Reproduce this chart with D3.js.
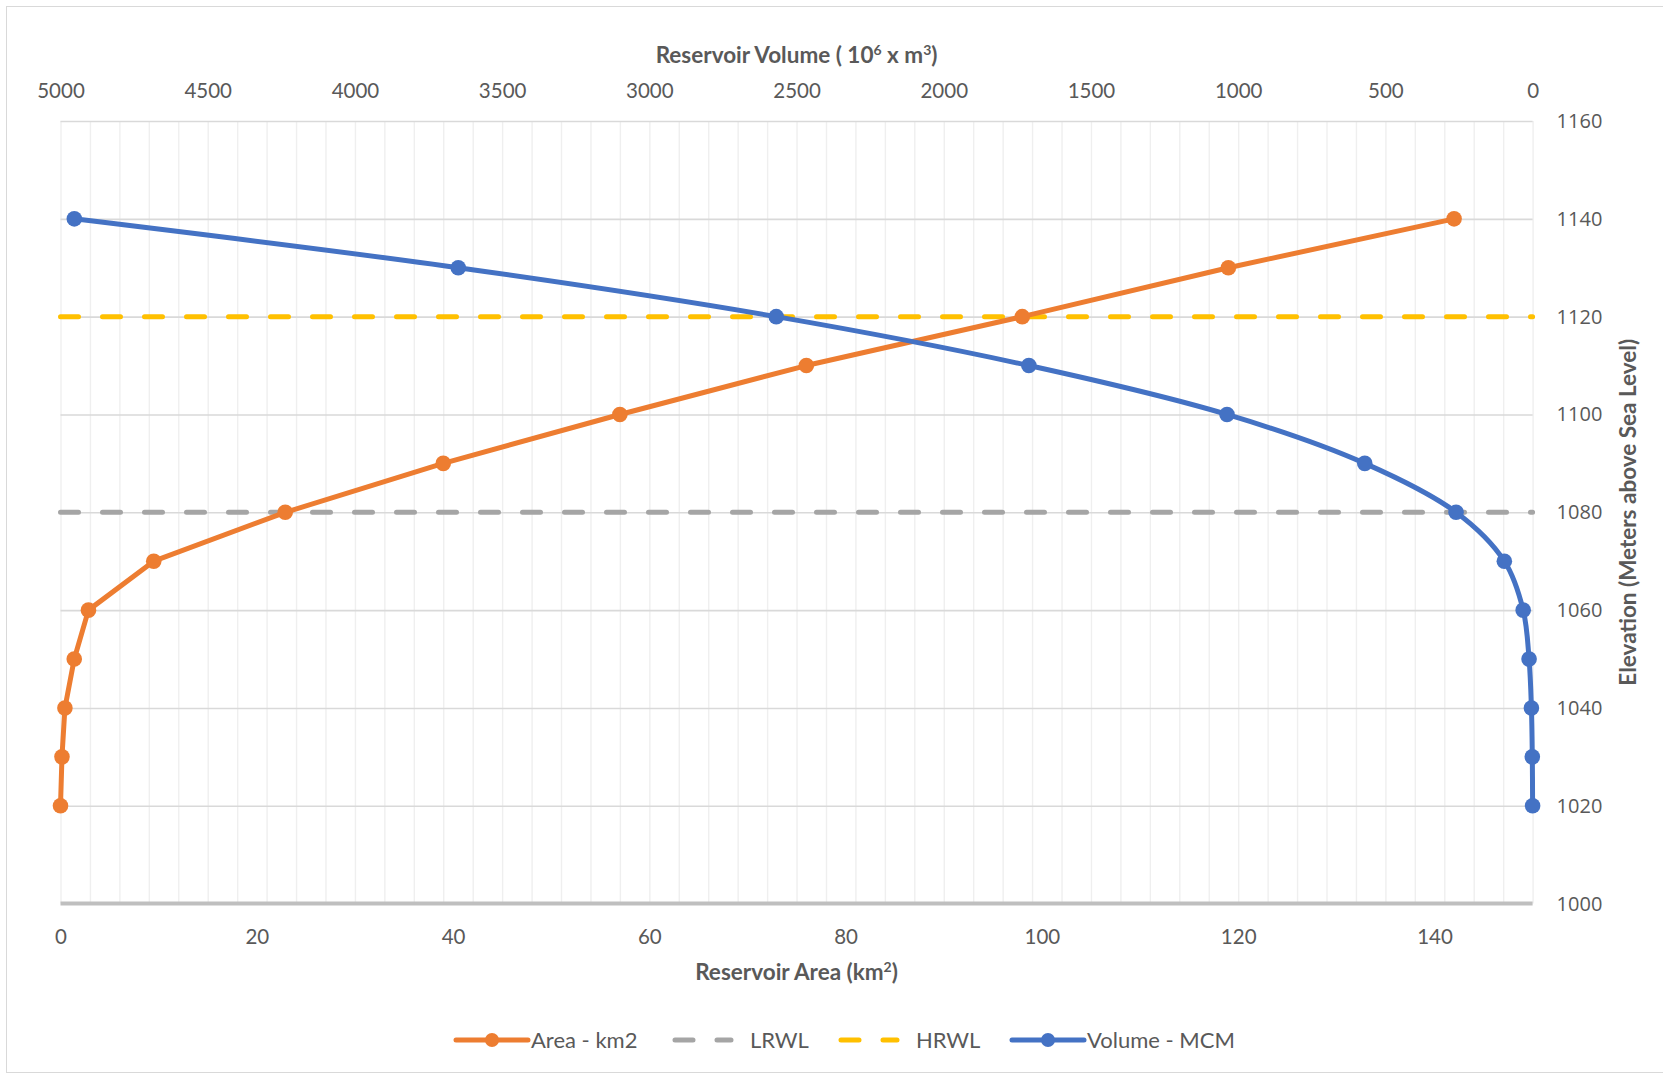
<!DOCTYPE html>
<html>
<head>
<meta charset="utf-8">
<script src="https://cdn.jsdelivr.net/npm/d3@7"></script>
<style>
  html, body { margin: 0; padding: 0; background: #ffffff; }
  svg { display: block; }
</style>
</head>
<body>
<svg id="chart" width="1663" height="1075"></svg>
<script>
// Elevation–area–capacity data for the reservoir
const elevations = [1020, 1030, 1040, 1050, 1060, 1070, 1080, 1090, 1100, 1110, 1120, 1130, 1140];
const areaKm2    = [0, 0.15, 0.45, 1.4, 2.85, 9.5, 22.9, 39.0, 57.0, 76.0, 98.0, 119.0, 142.0];
const volumeMCM  = [0, 1, 4, 12, 32, 96, 260, 570, 1038, 1711, 2569, 3649, 4953];

// Operating levels (m a.s.l.)
const lrwlLevel = 1080;
const hrwlLevel = 1120;

// Axis ticks
const areaTicks      = [0, 20, 40, 60, 80, 100, 120, 140];
const volumeTicks    = [5000, 4500, 4000, 3500, 3000, 2500, 2000, 1500, 1000, 500, 0];
const elevationTicks = [1000, 1020, 1040, 1060, 1080, 1100, 1120, 1140, 1160];

const legendItems = [
  { key: "area",   label: "Area - km2" },
  { key: "lrwl",   label: "LRWL" },
  { key: "hrwl",   label: "HRWL" },
  { key: "volume", label: "Volume - MCM" }
];

const colors = { area: "#ED7D31", lrwl: "#A5A5A5", hrwl: "#FFC000", volume: "#4472C4" };
const textColor = "#595959";

const svg = d3.select("#chart");
const W = 1663, H = 1075;
const plot = { left: 60.5, right: 1532.6, top: 121, bottom: 903.6 };

// Chart frame
svg.append("rect")
  .attr("x", 6.5).attr("y", 6.5).attr("width", W).attr("height", 1066)
  .attr("fill", "#fff").attr("stroke", "#d9d9d9").attr("stroke-width", 1);

const xArea = d3.scaleLinear().domain([0, 150]).range([plot.left, plot.right]);
const xVol  = d3.scaleLinear().domain([5000, 0]).range([plot.left, plot.right]);
const yElev = d3.scaleLinear().domain([1000, 1160]).range([plot.bottom, plot.top]);

// Vertical gridlines every 100 MCM on the volume axis
svg.append("g")
  .attr("transform", `translate(0,${plot.top})`)
  .call(d3.axisTop(xVol).tickValues(d3.range(0, 5001, 100)).tickSize(-(plot.bottom - plot.top)).tickFormat(""))
  .call(g => g.select(".domain").remove())
  .call(g => g.selectAll("line").attr("stroke", "#efefef").attr("stroke-width", 1.4));

// Horizontal gridlines
svg.append("g")
  .attr("transform", `translate(${plot.left},0)`)
  .call(d3.axisLeft(yElev).tickValues(elevationTicks.filter(v => v > 1000)).tickSize(-(plot.right - plot.left)).tickFormat(""))
  .call(g => g.select(".domain").remove())
  .call(g => g.selectAll("line").attr("stroke", "#d9d9d9").attr("stroke-width", 1.6));

// Baseline at 1000 m
svg.append("line")
  .attr("x1", plot.left).attr("x2", plot.right)
  .attr("y1", yElev(1000)).attr("y2", yElev(1000))
  .attr("stroke", "#bfbfbf").attr("stroke-width", 4);

// Axes
const tickFont = "Lato, sans-serif";

svg.append("g")
  .attr("transform", `translate(0,${plot.bottom})`)
  .call(d3.axisBottom(xArea).tickValues(areaTicks).tickSize(0).tickPadding(26).tickFormat(d3.format("d")))
  .call(g => g.select(".domain").remove())
  .call(g => g.selectAll("text").attr("fill", textColor).style("font-family", tickFont).style("font-size", "20.5px"));

svg.append("g")
  .attr("transform", `translate(0,${plot.top})`)
  .call(d3.axisTop(xVol).tickValues(volumeTicks).tickSize(0).tickPadding(23).tickFormat(d3.format("d")))
  .call(g => g.select(".domain").remove())
  .call(g => g.selectAll("text").attr("fill", textColor).style("font-family", tickFont).style("font-size", "20.5px"));

svg.append("g")
  .attr("transform", `translate(${plot.right},0)`)
  .call(d3.axisRight(yElev).tickValues(elevationTicks).tickSize(0).tickPadding(24).tickFormat(d3.format("d")))
  .call(g => g.select(".domain").remove())
  .call(g => g.selectAll("text").attr("fill", textColor).style("font-family", "'Open Sans', sans-serif").style("font-size", "20px"));

// Axis titles
const titleStyle = sel => sel
  .attr("fill", textColor)
  .style("font-family", tickFont)
  .style("font-weight", "bold")
  .style("font-size", "22.5px");

const volTitle = svg.append("text")
  .attr("x", (plot.left + plot.right) / 2).attr("y", 63)
  .attr("text-anchor", "middle")
  .call(titleStyle);
volTitle.append("tspan").text("Reservoir Volume ( 10");
volTitle.append("tspan").attr("dy", -8).style("font-size", "14px").text("6");
volTitle.append("tspan").attr("dy", 8).text(" x m");
volTitle.append("tspan").attr("dy", -8).style("font-size", "14px").text("3");
volTitle.append("tspan").attr("dy", 8).text(")");

const areaTitle = svg.append("text")
  .attr("x", (plot.left + plot.right) / 2).attr("y", 980)
  .attr("text-anchor", "middle")
  .call(titleStyle);
areaTitle.append("tspan").text("Reservoir Area (km");
areaTitle.append("tspan").attr("dy", -8).style("font-size", "14px").text("2");
areaTitle.append("tspan").attr("dy", 8).text(")");

svg.append("text")
  .attr("transform", `translate(1636,${(plot.top + plot.bottom) / 2}) rotate(-90)`)
  .attr("text-anchor", "middle")
  .call(titleStyle)
  .text("Elevation (Meters above Sea Level)");

// Operating level lines
const dash = "18 24";
[[lrwlLevel, colors.lrwl], [hrwlLevel, colors.hrwl]].forEach(([lvl, c]) => {
  svg.append("line")
    .attr("x1", xArea(0)).attr("x2", xArea(150))
    .attr("y1", yElev(lvl)).attr("y2", yElev(lvl))
    .attr("stroke", c).attr("stroke-width", 5)
    .attr("stroke-dasharray", dash).attr("stroke-linecap", "round");
});

// Curves: area drawn with straight segments, volume smoothed
const areaPts = elevations.map((e, i) => [xArea(areaKm2[i]), yElev(e)]);
const volPts  = elevations.map((e, i) => [xVol(volumeMCM[i]), yElev(e)]);
const straight = d3.line();
const smooth = d3.line().curve(d3.curveCatmullRom.alpha(0.5));

function drawSeries(pts, color, lineGen) {
  svg.append("path")
    .attr("d", lineGen(pts))
    .attr("fill", "none").attr("stroke", color).attr("stroke-width", 5)
    .attr("stroke-linejoin", "round").attr("stroke-linecap", "round");
  svg.append("g").selectAll("circle").data(pts).join("circle")
    .attr("cx", d => d[0]).attr("cy", d => d[1]).attr("r", 7.8)
    .attr("fill", color);
}
drawSeries(areaPts, colors.area, straight);
drawSeries(volPts, colors.volume, smooth);

// Legend
const legendY = 1040;
const legendX = [456, 673, 839, 1012];
const legend = svg.append("g");
legendItems.forEach((item, i) => {
  const x0 = legendX[i], x1 = x0 + 72;
  const g = legend.append("g");
  const ln = g.append("line")
    .attr("x1", x0).attr("x2", x1).attr("y1", legendY).attr("y2", legendY)
    .attr("stroke", colors[item.key]).attr("stroke-width", 5)
    .attr("stroke-linecap", "round");
  if (item.key === "lrwl" || item.key === "hrwl") {
    ln.attr("stroke-dasharray", dash).attr("x1", x0 + 2).attr("x2", x1 - 14);
  } else {
    g.append("circle").attr("cx", (x0 + x1) / 2).attr("cy", legendY).attr("r", 7).attr("fill", colors[item.key]);
  }
  g.append("text")
    .attr("x", item.key === "area" || item.key === "volume" ? x1 + 3 : x1 + 5)
    .attr("y", legendY).attr("dy", "0.35em")
    .attr("fill", textColor)
    .style("font-family", tickFont).style("font-size", "22px")
    .text(item.label);
});
</script>
</body>
</html>
